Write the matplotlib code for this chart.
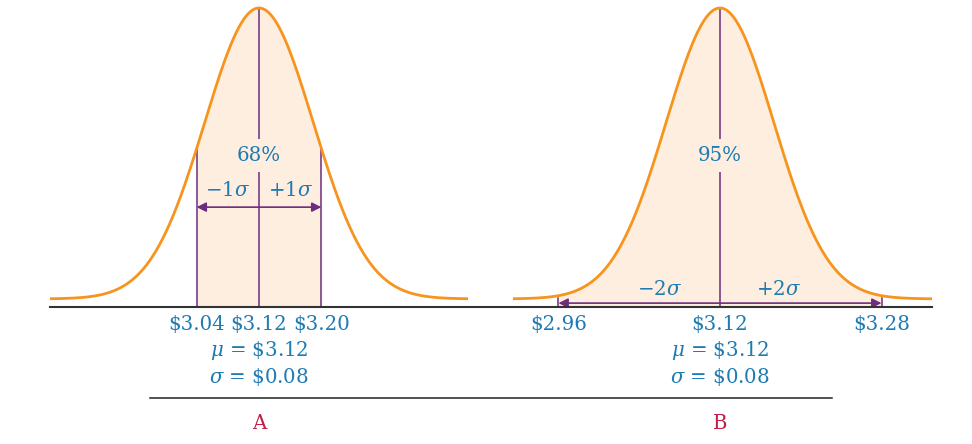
import numpy as np
import matplotlib
matplotlib.use("Agg")
import matplotlib.pyplot as plt
from matplotlib.lines import Line2D

plt.rcParams['font.family'] = 'DejaVu Serif'
plt.rcParams['mathtext.fontset'] = 'dejavuserif'

# Chart values
mu = 3.12
sigma = 0.08
panel_names = ['A', 'B']
panel_k = [1, 2]                    # shaded region is mu +/- k*sigma
panel_pct = ['68%', '95%']
panel_tick_labels = [['$3.04', '$3.12', '$3.20'], ['$2.96', '$3.12', '$3.28']]
panel_xlim = [(2.852, 3.388), (2.915, 3.330)]
# drawn curve width relative to sigma (the illustration is not to scale)
curve_scale = [0.87, 0.667]
curve_floor = 0.027

ORANGE = '#F7941D'
FILL = '#FDEEDF'
PURPLE = '#6E2C7E'
BLUE = '#1E7BB3'
CRIMSON = '#C21F4B'
FS = 14.2

W, H = 972, 444
fig = plt.figure(figsize=(W / 100, H / 100), dpi=100)

# axes pixel extents (left, right), baseline at y=307, peak at y=8
ax_px = [(50, 468), (513, 932)]
base_px, peak_px = 307, 8


def fy(py):
    return (H - py) / H


for i, (x0, x1) in enumerate(ax_px):
    ax = fig.add_axes([x0 / W, fy(base_px), (x1 - x0) / W, (base_px - peak_px) / H])
    ax.set_xlim(*panel_xlim[i])
    ax.set_ylim(0, 1)
    ax.axis('off')

    k = panel_k[i]
    xs = np.linspace(panel_xlim[i][0], panel_xlim[i][1], 600)
    s = curve_scale[i] * sigma
    ys = curve_floor + (1 - curve_floor) * np.exp(-0.5 * ((xs - mu) / s) ** 2)

    lo, hi = mu - k * sigma, mu + k * sigma
    m = (xs >= lo) & (xs <= hi)
    ax.fill_between(xs[m], 0, ys[m], color=FILL, lw=0, zorder=1)
    ax.plot(xs, ys, color=ORANGE, lw=2.0, clip_on=False, zorder=4,
            solid_capstyle='butt')

    def curve_at(x):
        return curve_floor + (1 - curve_floor) * np.exp(-0.5 * ((x - mu) / s) ** 2)

    # center line, broken by the percentage label
    ax.plot([mu, mu], [0, 1], color=PURPLE, lw=1.1, zorder=2, clip_on=False)
    ax.text(mu, 0.508, panel_pct[i], color=BLUE, fontsize=FS, ha='center', va='center',
            zorder=3, bbox=dict(facecolor=FILL, edgecolor='none', pad=5))

    if k == 1:
        for xv in (lo, hi):
            ax.plot([xv, xv], [0, curve_at(xv)], color=PURPLE, lw=1.1, zorder=2)
        ay = 0.334
        ax.text(mu - 0.5 * sigma, 0.391, r'$-1\sigma$', color=BLUE, fontsize=FS,
                ha='center', va='center')
        ax.text(mu + 0.5 * sigma, 0.391, r'$+1\sigma$', color=BLUE, fontsize=FS,
                ha='center', va='center')
    else:
        ay = 0.013
        for xv in (lo, hi):
            ax.plot([xv, xv], [0, 0.03], color=PURPLE, lw=1.1, zorder=2)
        ax.text(mu - 0.75 * sigma, 0.057, r'$-2\sigma$', color=BLUE, fontsize=FS,
                ha='center', va='center')
        ax.text(mu + 0.72 * sigma, 0.057, r'$+2\sigma$', color=BLUE, fontsize=FS,
                ha='center', va='center')
    ax.annotate('', xy=(lo, ay), xytext=(hi, ay),
                arrowprops=dict(arrowstyle='<|-|>', color=PURPLE, lw=1.2,
                                shrinkA=0, shrinkB=0, mutation_scale=14), zorder=5)

    # labels under the baseline
    for xv, lab in zip((lo, mu, hi), panel_tick_labels[i]):
        ax.text(xv, -0.060, lab, color=BLUE, fontsize=FS, ha='center', va='center')
    ax.text(mu, -0.147, r'$\mu$ = \$%.2f' % mu, color=BLUE, fontsize=FS,
            ha='center', va='center')
    ax.text(mu, -0.234, r'$\sigma$ = \$%.2f' % sigma, color=BLUE, fontsize=FS,
            ha='center', va='center')
    ax.text(mu, -0.391, panel_names[i], color=CRIMSON, fontsize=FS,
            ha='center', va='center')

# baseline and lower rule
fig.add_artist(Line2D([50 / W, 932 / W], [fy(base_px)] * 2, color='#333333', lw=1.5))
fig.add_artist(Line2D([150 / W, 832 / W], [fy(398)] * 2, color='#222222', lw=1.1))

fig.savefig('out.png', dpi=100)
